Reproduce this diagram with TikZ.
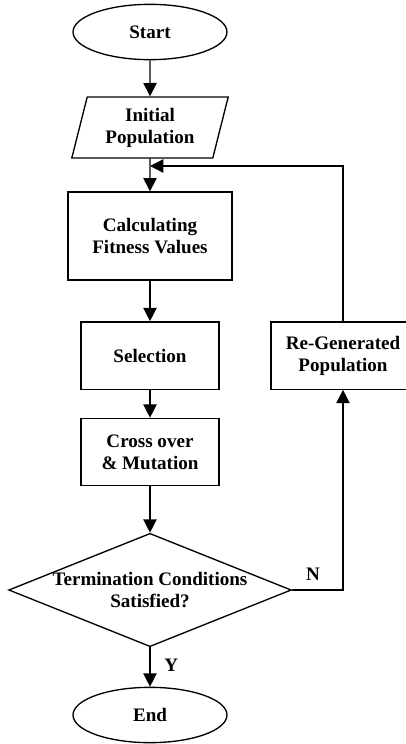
\documentclass[tikz,border=0pt]{standalone}
\usepackage{fontspec}
\setmainfont{Liberation Serif}
\usepackage{tikz}
\usetikzlibrary{arrows.meta,shapes.geometric}

\begin{document}
\begin{tikzpicture}[x=0.75pt, y=-0.75pt,
    every node/.style={font=\fontsize{14.3}{16.5}\selectfont\bfseries, align=center},
    line/.style={line width=1pt},
    flow/.style={line, -{Triangle[width=10pt, length=10pt]}},
    terminal/.style={ellipse, draw, line, minimum width=115.5pt, minimum height=41.5pt},
    process/.style={rectangle, draw, line, minimum width=103.5pt, minimum height=50.5pt},
    io/.style={trapezium, trapezium left angle=76, trapezium right angle=104, trapezium stretches=true,
      draw, line, minimum width=117.75pt, minimum height=45.75pt},
    decision/.style={diamond, draw, line, aspect=2.5, inner sep=-1.5pt, minimum width=212pt, minimum height=85pt}]

          % Variables
          \def \midx  {150}
          \def \regx  {343}
          \def \joiny {166}

          % Page
          \useasboundingbox (0,0) rectangle (406,744);
          \clip (0,0) rectangle (406,744);

          % Shapes
          \node[terminal] (start) at (\midx,32) {Start};
          \node[io] (init) at (\midx,127.5) {Initial\\Population};
          \node[process, minimum width=123pt, minimum height=66pt] (fitness) at (\midx,236) {Calculating\\Fitness Values};
          \node[process] (select) at (\midx,355.5) {Selection};
          \node[process] (cross) at (\midx,452) {Cross over\\\& Mutation};
          \node[decision] (cond) at (\midx,590) {Termination Conditions\\Satisfied?};
          \node[terminal] (finish) at (\midx,715) {End};
          \node[process, minimum width=108pt] (regen) at (\regx,355.5) {Re-Generated\\Population};
          \coordinate (join) at (\midx,\joiny);

          % Arrows
          \draw[flow] (start) -- (init);
          \draw[flow] (init) -- (fitness);
          \draw[flow] (fitness) -- (select);
          \draw[flow] (select) -- (cross);
          \draw[flow] (cross) -- (cond);
          \draw[flow] (cond) -- (finish) node[pos=0.45, right=7pt] (yes) {Y};
          \draw[flow] (cond.east) -| (regen.south);
          \draw[flow] (regen.north) |- (join);

          % Labels
          \node (no) at (313,574) {N};

        \end{tikzpicture}
\end{document}
